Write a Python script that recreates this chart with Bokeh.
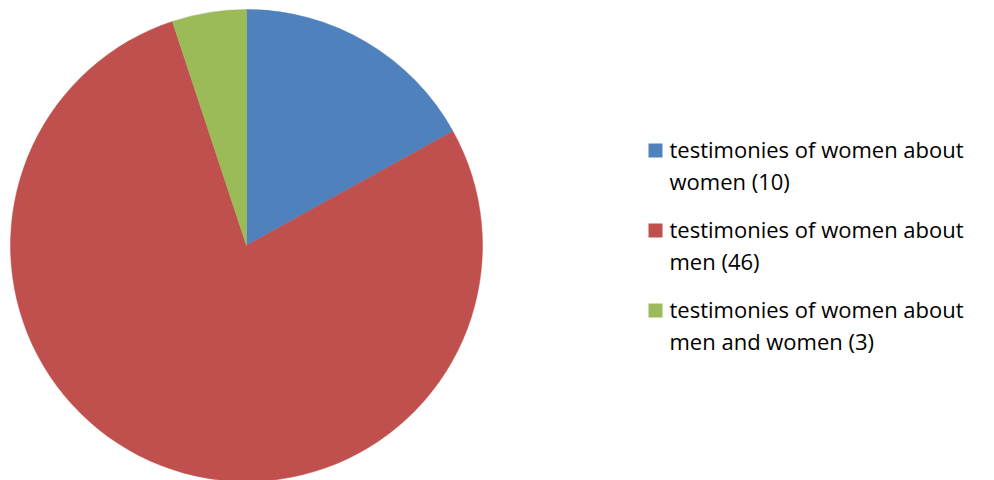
import math
from bokeh.plotting import figure
from bokeh.models import Range1d
from bokeh.core.properties import value
from bokeh.embed import file_html
from bokeh.resources import INLINE

# ---- data ----
categories = ["testimonies of women about women",
              "testimonies of women about men",
              "testimonies of women about men and women"]
counts = [10, 46, 3]
colors = ["#4F81BD", "#C0504D", "#9BBB59"]
legend_line1 = ["testimonies of women about",
                "testimonies of women about",
                "testimonies of women about"]
legend_line2 = ["women (10)", "men (46)", "men and women (3)"]

# ---- layout ----
W, H = 994, 480
p = figure(width=W, height=H, x_range=Range1d(0, W), y_range=Range1d(0, H),
           output_backend="svg", toolbar_location=None, min_border=0)
p.axis.visible = False
p.grid.visible = False
p.outline_line_color = None
p.background_fill_color = "white"
p.border_fill_color = "white"

total = sum(counts)
starts, ends = [], []
acc = 0
for c in counts:
    starts.append(math.pi / 2 - 2 * math.pi * acc / total)
    acc += c
    ends.append(math.pi / 2 - 2 * math.pi * acc / total)

cx, cy, r = 246, H - 245, 236
p.wedge(x=cx, y=cy, radius=r, start_angle=starts, end_angle=ends,
        direction="clock", fill_color=colors, line_color=colors, line_width=0.5)

# legend
lx_sq, lx_txt = 655, 669
step = 80
sq_y = [H - 150 - i * step for i in range(len(categories))]
l1_y = [H - 148 - i * step for i in range(len(categories))]
l2_y = [y - 32 for y in l1_y]
p.rect(x=[lx_sq] * len(categories), y=sq_y, width=14, height=14,
       fill_color=colors, line_color=None)
p.text(x=[lx_txt] * len(categories), y=l1_y, text=legend_line1,
       text_font=value("Open Sans"), text_font_size="22px", text_color="#000000",
       text_baseline="middle", text_align="left")
p.text(x=[lx_txt] * len(categories), y=l2_y, text=legend_line2,
       text_font=value("Open Sans"), text_font_size="22px", text_color="#000000",
       text_baseline="middle", text_align="left")

open("out.html", "w").write(file_html(p, INLINE))
